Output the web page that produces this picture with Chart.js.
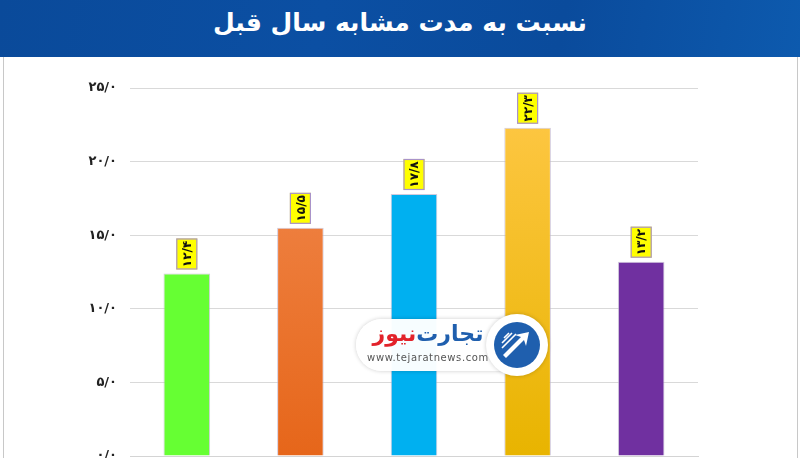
<!DOCTYPE html>
<html>
<head>
<meta charset="utf-8">
<script src="https://cdn.jsdelivr.net/npm/chart.js@4.4.0/dist/chart.umd.min.js"></script>
<style>
  html, body { margin: 0; padding: 0; overflow: hidden; background: #fff; }
  #page { position: relative; width: 800px; height: 458px; overflow: hidden; background: #fff; }
  #head {
    position: absolute; left: 0; top: 0; width: 800px; height: 57px;
    background: linear-gradient(100deg, #0a4a9a 0%, #0b4fa3 40%, #0a4b9c 70%, #0d5aae 100%);
    color: #fff; font-family: "DejaVu Sans", sans-serif; font-weight: bold;
    font-size: 25px; text-align: center; line-height: 46px; direction: rtl;
  }
  #frame { position: absolute; left: 3px; top: 57px; width: 793px; height: 420px;
    border-left: 1px solid #c8c8c8; border-right: 1px solid #c8c8c8; }
  #wrap { position: absolute; left: 0; top: 57px; width: 800px; height: 420px; }
  #logo { position: absolute; left: 356px; top: 314px; width: 192px; height: 62px; }
  #logo .pill { position: absolute; left: 0; top: 5px; width: 172px; height: 52px;
    background: rgba(255,255,255,0.97); border-radius: 26px;
    box-shadow: 0 0 4px rgba(0,0,0,0.2); }
  #logo .circ { position: absolute; left: 130px; top: 0; width: 62px; height: 62px;
    border-radius: 50%; background: #fff; box-shadow: 0 0 4px rgba(0,0,0,0.2); }
  #logo svg { position: absolute; left: 8px; top: 8px; }
  #logo .name { position: absolute; left: 4px; top: 6px; width: 136px; text-align: center;
    white-space: nowrap; font-family: "DejaVu Sans", sans-serif; font-weight: bold;
    font-size: 22px; line-height: 28px; direction: rtl; }
  #logo .url { position: absolute; left: 6px; top: 38px; width: 132px; text-align: center;
    font-family: "DejaVu Sans", sans-serif; font-size: 10px; color: #555; letter-spacing: 0.6px; }
</style>
</head>
<body>
<div id="page">
  <div id="head">نسبت به مدت مشابه سال قبل</div>
  <div id="frame"></div>
  <div id="wrap"><canvas id="chart"></canvas></div>
  <div id="logo">
    <div class="pill"></div>
    <div class="circ">
      <svg width="46" height="46" viewBox="0 0 46 46">
        <circle cx="23" cy="23" r="23" fill="#1f5fae"/>
        <path d="M9 33 L27 15 L21 13 L35 10 L32 24 L30 18 L12 36 Z" fill="#fff"/>
        <path d="M8 26 L22 12 M8 21 L18 11 M10 16 L15 11" stroke="#fff" stroke-width="1.6"/>
      </svg>
    </div>
    <div class="name"><span style="color:#1f5fae">تجارت</span>&zwnj;<span style="color:#e2222a">نیوز</span></div>
    <div class="url">www.tejaratnews.com</div>
  </div>
</div>
<script>
// chart values
const categories = ['1', '2', '3', '4', '5'];
const values = [12.4, 15.5, 17.8, 22.3, 13.2];
const yTicks = [0, 5, 10, 15, 20, 25];
const barTop = ['#66ff33', '#f28c52', '#00b0f0', '#ffc848', '#7030a0'];
const barBottom = ['#66ff33', '#e6661a', '#00b0f0', '#e8b400', '#7030a0'];

// persian digits, slash as decimal mark
function toFa(n) {
    const fa = '۰۱۲۳۴۵۶۷۸۹';
    return n.toFixed(1).replace('.', '/').replace(/[0-9]/g, d => fa[d]);
}

function barFill(ctx) {
    const chart = ctx.chart;
    const area = chart.chartArea;
    const i = ctx.dataIndex;
    if (!area) return barTop[i];
    const g = chart.ctx.createLinearGradient(0, area.top, 0, area.bottom);
    g.addColorStop(0, barTop[i]);
    g.addColorStop(1, barBottom[i]);
    return g;
}

// yellow boxed, rotated value labels
const boxLabels = {
    id: 'boxLabels',
    afterDatasetsDraw(chart) {
        const c = chart.ctx;
        const meta = chart.getDatasetMeta(0);
        meta.data.forEach((bar, i) => {
            const w = 21, h = 31, gap = 4;
            const x = bar.x - w / 2;
            const y = bar.y - gap - h;
            c.save();
            c.fillStyle = '#ffff00';
            c.fillRect(x, y, w, h);
            c.strokeStyle = '#a993c9';
            c.lineWidth = 1.2;
            c.strokeRect(x + 0.5, y + 0.5, w - 1, h - 1);
            c.translate(bar.x, y + h / 2);
            c.rotate(-Math.PI / 2);
            c.fillStyle = '#111';
            c.font = 'bold 12px "DejaVu Sans"';
            c.textAlign = 'center';
            c.textBaseline = 'middle';
            c.fillText(toFa(values[i]), 0, 1);
            c.restore();
        });
    }
};

new Chart(document.getElementById('chart'), {
    type: 'bar',
    data: {
        labels: categories,
        datasets: [{
            data: values,
            backgroundColor: barFill,
            borderColor: 'rgba(190,180,205,0.7)',
            borderWidth: 1,
            barPercentage: 0.41,
            categoryPercentage: 1
        }]
    },
    options: {
        responsive: true,
        maintainAspectRatio: false,
        animation: false,
        layout: { padding: { left: 0, right: 102, top: 31, bottom: 21 } },
        plugins: { legend: { display: false }, tooltip: { enabled: false } },
        scales: {
            x: {
                ticks: { display: false },
                grid: { display: false },
                border: { display: true, color: '#d4d4d4', width: 1 },
                afterFit: s => { s.height = 0; }
            },
            y: {
                min: 0, max: 25,
                afterFit: s => { s.width = 130; },
                afterBuildTicks: s => { s.ticks = yTicks.map(v => ({ value: v })); },
                ticks: {
                    padding: 13,
                    color: '#222',
                    font: { family: 'DejaVu Sans', weight: 'bold', size: 13 },
                    callback: v => toFa(v)
                },
                grid: { color: '#d9d9d9', lineWidth: 1, drawTicks: false },
                border: { display: false }
            }
        }
    },
    plugins: [boxLabels]
});
</script>
</body>
</html>
